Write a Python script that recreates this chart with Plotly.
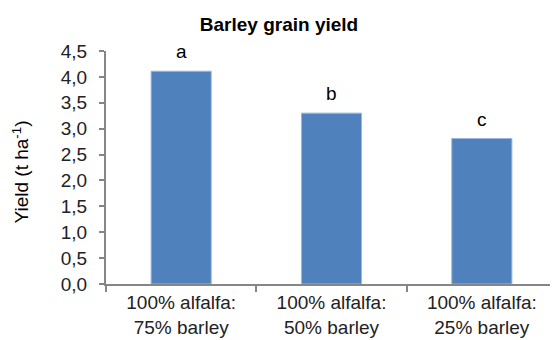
import plotly.graph_objects as go

categories = ["100% alfalfa:<br>75% barley", "100% alfalfa:<br>50% barley", "100% alfalfa:<br>25% barley"]
yields = [4.11, 3.30, 2.81]
letters = ["a", "b", "c"]

FONT = "Liberation Sans, Arial"

fig = go.Figure()
fig.add_trace(go.Bar(
    x=categories, y=yields,
    marker=dict(color="#4F81BD", line=dict(color="#9DB7DA", width=1)),
    width=0.4,
))
for c, v, l in zip(categories, yields, letters):
    fig.add_annotation(x=c, y=v, text=l, showarrow=False, yanchor="bottom", yshift=7,
                       font=dict(family=FONT, size=19, color="#000"))

fig.add_annotation(text="Yield (t ha<sup>-1</sup>)", xref="paper", yref="paper", x=0, y=0.5,
                   xanchor="center", yanchor="middle", xshift=-86, yshift=-5, textangle=-90,
                   showarrow=False, font=dict(family=FONT, size=19, color="#000"))

fig.update_layout(
    width=550, height=332,
    margin=dict(l=98, r=1, t=43, b=56),
    paper_bgcolor="white", plot_bgcolor="white",
    separators=",.",
    showlegend=False,
    title=dict(text="<b>Barley grain yield</b>", x=(279 - 8) / 550, xanchor="center", xref="container",
               y=1 - 16 / 332, yref="container", yanchor="middle",
               font=dict(family=FONT, size=19, color="#000")),
    font=dict(family=FONT, size=18, color="#222"),
)
fig.update_yaxes(range=[0, 4.5], dtick=0.5, tickformat=".1f", showgrid=False, zeroline=False,
                 showline=True, linecolor="#868686", linewidth=2, ticks="outside", ticklen=5,
                 tickcolor="#868686", tickwidth=2, automargin=False, ticklabelstandoff=8,
                 tickfont=dict(family=FONT, size=19, color="#222"))
fig.update_xaxes(showline=True, linecolor="#868686", linewidth=2, ticks="outside", ticklen=6,
                 tickcolor="#868686", tickwidth=2, tickson="boundaries", showgrid=False,
                 automargin=False, tickfont=dict(family=FONT, size=19, color="#222"))

fig.write_html("out.html")
